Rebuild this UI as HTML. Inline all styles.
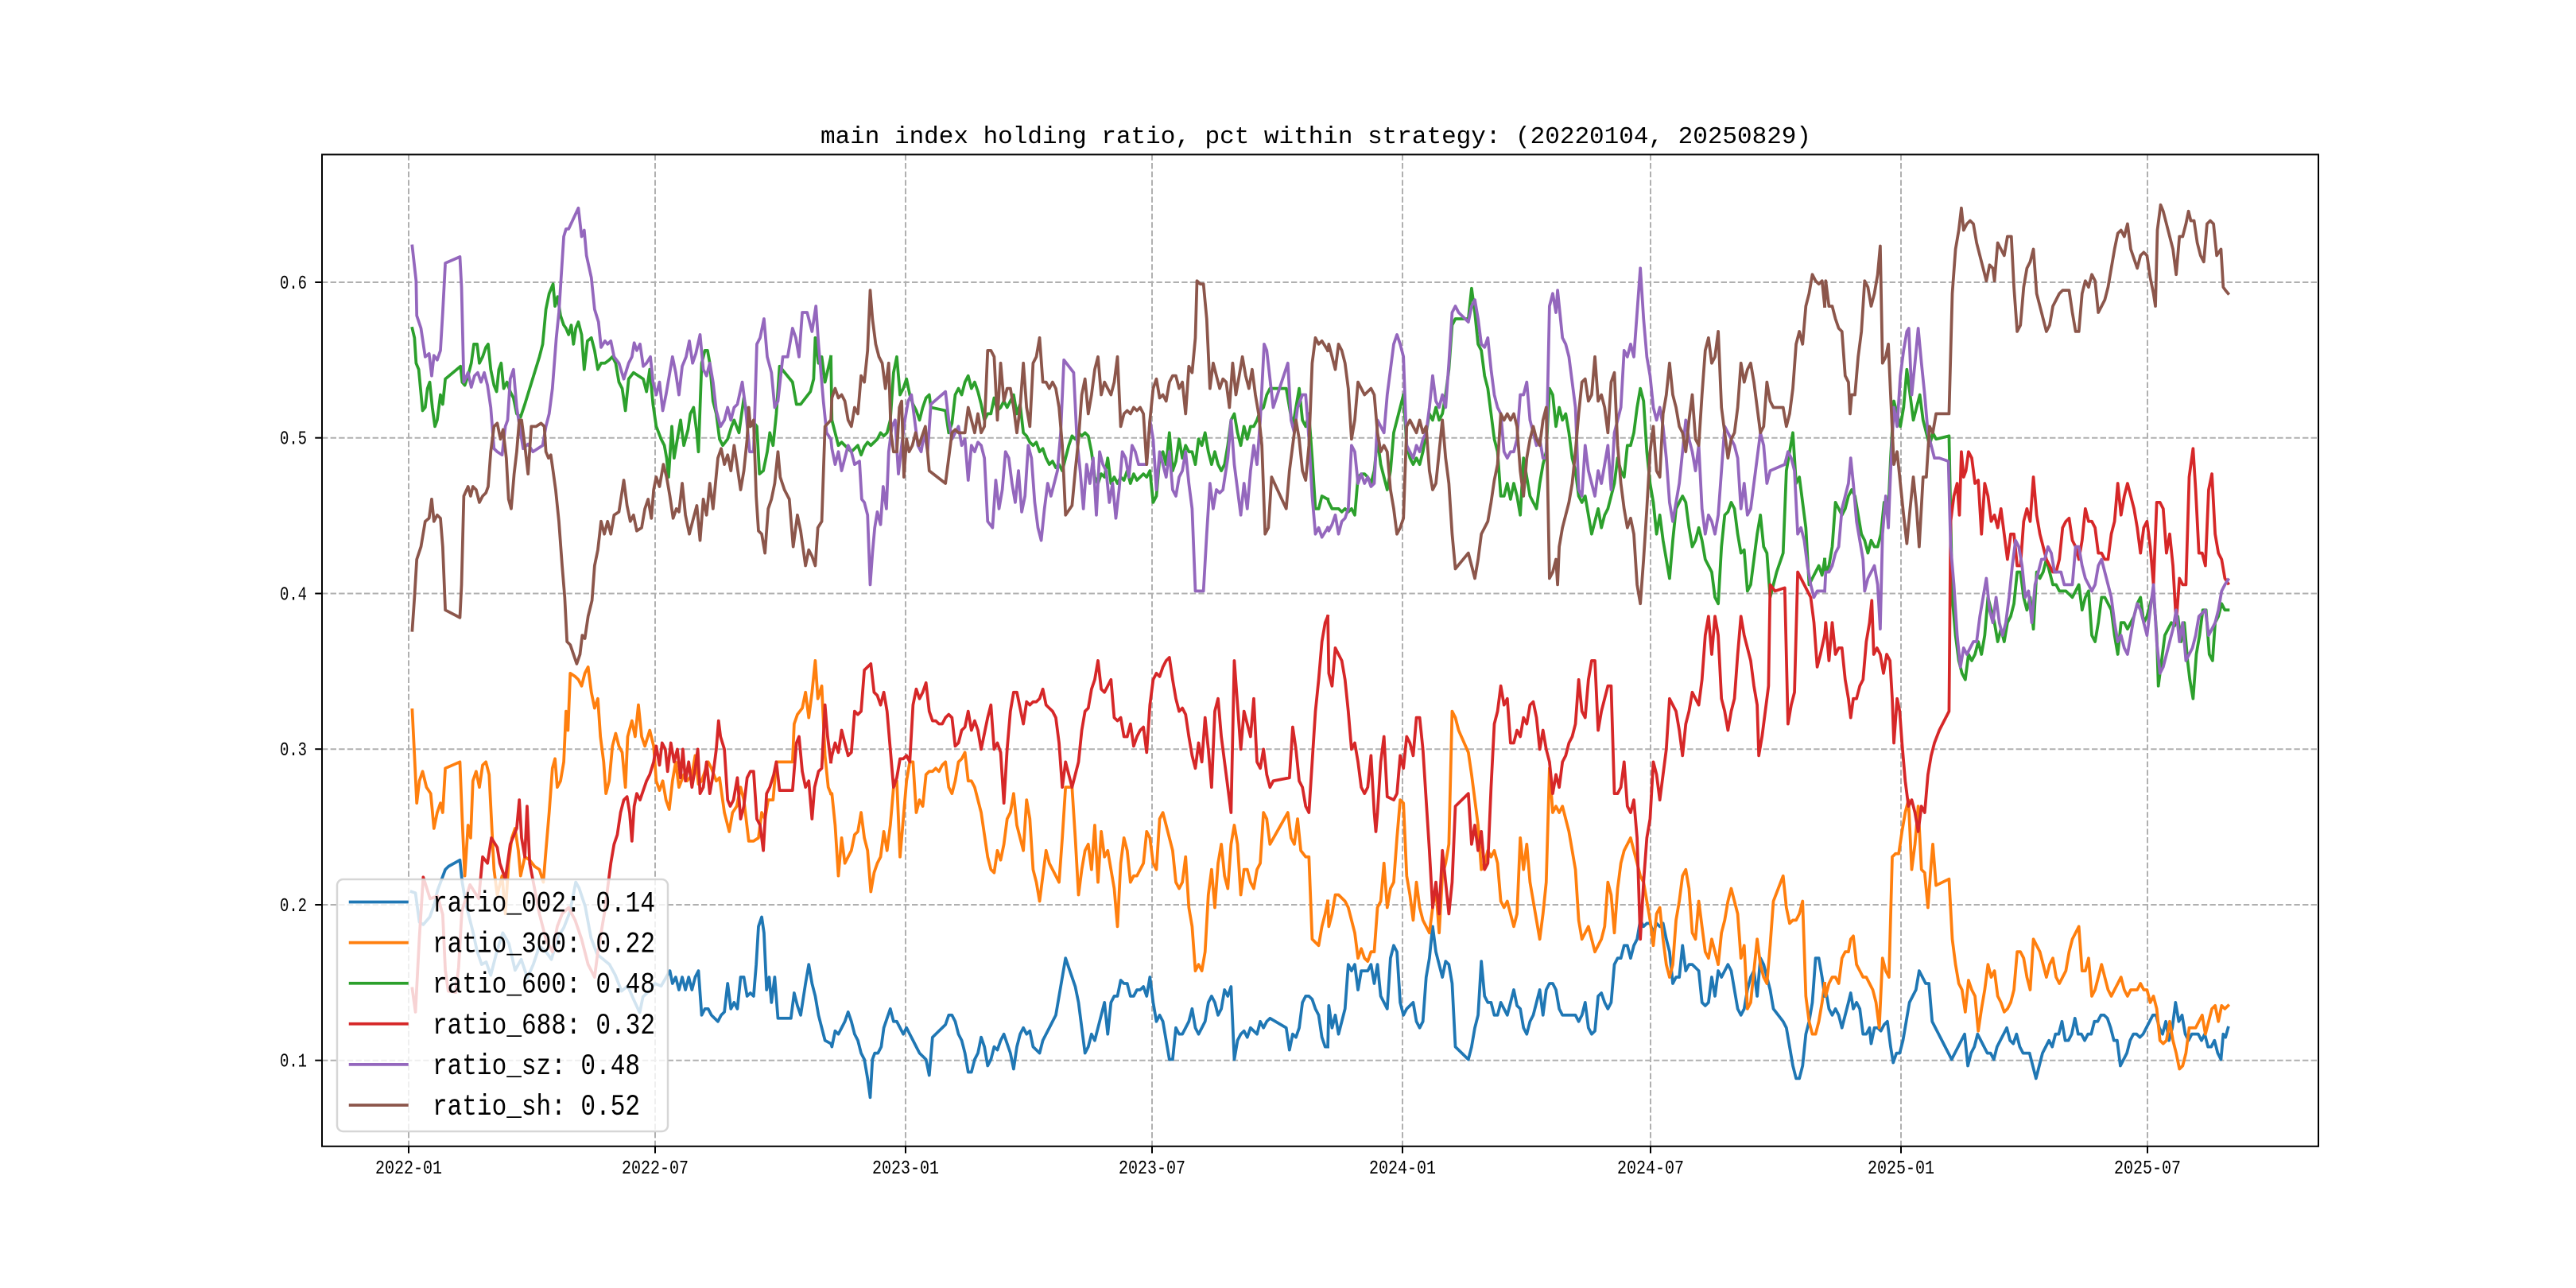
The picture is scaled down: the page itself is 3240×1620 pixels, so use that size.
<!DOCTYPE html>
<html><head><meta charset="utf-8"><style>
html,body{margin:0;padding:0;background:#fff;overflow:hidden}
svg{display:block}
.c polyline{vector-effect:non-scaling-stroke;fill:none;stroke-width:3.75;stroke-linejoin:round;stroke-linecap:square}
.t{font-family:"Liberation Mono","DejaVu Sans Mono",monospace;fill:#000}
</style></head><body>
<svg xmlns="http://www.w3.org/2000/svg" width="3240" height="1620" viewBox="0 0 3240 1620">
<rect x="0" y="0" width="3240" height="1620" fill="#fff"/>
<!-- grid -->
<g stroke="#b0b0b0" stroke-width="2" stroke-dasharray="7.4 3.2">
<line x1="514" y1="194.4" x2="514" y2="1441.8"/>
<line x1="824" y1="194.4" x2="824" y2="1441.8"/>
<line x1="1139" y1="194.4" x2="1139" y2="1441.8"/>
<line x1="1449" y1="194.4" x2="1449" y2="1441.8"/>
<line x1="1764" y1="194.4" x2="1764" y2="1441.8"/>
<line x1="2076" y1="194.4" x2="2076" y2="1441.8"/>
<line x1="2391" y1="194.4" x2="2391" y2="1441.8"/>
<line x1="2701" y1="194.4" x2="2701" y2="1441.8"/>
<line x1="405" y1="355" x2="2916" y2="355"/>
<line x1="405" y1="550.7" x2="2916" y2="550.7"/>
<line x1="405" y1="746.5" x2="2916" y2="746.5"/>
<line x1="405" y1="942.2" x2="2916" y2="942.2"/>
<line x1="405" y1="1138" x2="2916" y2="1138"/>
<line x1="405" y1="1333.7" x2="2916" y2="1333.7"/>
</g>
<!-- chunk 1 -->
<g class="c" transform="translate(405,194) scale(0.408163,0.796178)">
<polyline stroke="#1f77b4" points="276,1165 288,1167 300,1213 312,1217 332,1205 347,1184 356,1163 380,1130 390,1125 425,1115 432,1150 445,1188 464,1226 478,1259 492,1280 506,1276 520,1297 539,1259 557,1230 576,1247 595,1289 614,1272 633,1301 651,1280 670,1251 689,1259 707,1272 726,1238 745,1222 764,1197 782,1150 792,1159 811,1188 829,1238 848,1264 867,1272 886,1280 904,1297 923,1322 942,1314 960,1335 979,1356 989,1331 1008,1322 1026,1310 1045,1314 1064,1297 1072,1290 1080,1310 1090,1300 1100,1320 1110,1300 1120,1320 1130,1300 1140,1320 1150,1300 1160,1290 1170,1360 1180,1350 1190,1350 1200,1360 1210,1365 1220,1370 1230,1360 1240,1355 1250,1310 1260,1350 1270,1340 1280,1350 1290,1300 1300,1300 1310,1330 1320,1325 1330,1330 1338,1280 1345,1220 1355,1205 1362,1230 1370,1320 1378,1300 1385,1340 1395,1300 1405,1365 1420,1365 1445,1365 1455,1325 1465,1345 1475,1360 1490,1310 1500,1280 1510,1310 1520,1330 1530,1360 1540,1380 1550,1400 1568,1405"/>
<polyline stroke="#ff7f0e" points="278,878 285,950 292,1025 300,990 310,975 322,1000 335,1010 345,1065 355,1040 365,1025 372,1040 380,970 425,960 432,1050 440,1140 450,1060 458,1080 465,990 475,975 485,1000 495,965 505,960 515,980 520,1030 530,1130 540,1170 555,1140 565,1200 575,1120 585,1080 595,1065 605,1100 612,1140 625,1110 640,1115 655,1125 670,1130 682,1150 690,1100 700,1040 710,970 718,955 725,1000 735,990 745,960 752,880 758,910 765,820 780,825 790,830 800,840 810,820 820,810 830,850 840,875 850,860 858,920 868,960 875,1010 885,990 895,935 905,915 915,935 925,945 935,1000 942,920 955,895 965,920 975,870 985,920 995,935 1010,910 1022,935 1030,990 1040,1005 1050,990 1060,1020 1070,1035 1080,990 1090,960 1100,1000 1115,980 1125,990 1140,980 1150,950 1160,995 1170,990 1180,975 1190,960 1200,970 1215,990 1225,985 1240,1040 1255,1070 1265,1040 1278,1030 1290,1000 1300,1020 1315,1085 1330,1085 1345,1080 1355,1040 1365,1050 1375,1020 1390,1020 1400,960 1410,960 1450,960 1455,900 1465,885 1480,875 1490,850 1500,890 1510,850 1520,800 1528,860 1540,840 1550,950 1560,1000 1568,1010"/>
<polyline stroke="#2ca02c" points="278,275 285,290 290,330 298,340 310,405 318,400 325,370 332,360 340,400 348,430 355,420 365,380 372,395 380,355 427,335 432,360 440,365 450,350 460,330 468,300 478,300 485,330 495,320 505,305 512,300 520,340 530,365 538,375 545,340 552,330 560,370 570,360 580,375 590,385 600,410 612,415 625,395 640,370 655,345 670,320 680,300 690,245 700,220 712,205 718,240 726,225 735,255 745,270 752,275 760,285 768,270 775,300 782,275 790,265 800,285 808,340 818,295 830,290 840,310 850,340 860,330 872,330 885,325 895,320 905,330 915,360 925,370 935,405 945,355 960,345 975,350 990,355 1000,375 1010,340 1020,395 1030,430 1045,450 1055,460 1062,480 1068,510 1078,430 1085,480 1095,450 1105,420 1115,460 1128,435 1135,410 1145,400 1155,440 1160,470 1170,330 1180,310 1188,310 1195,330 1205,390 1215,410 1225,450 1235,460 1250,450 1262,430 1270,420 1285,440 1300,385 1310,410 1320,430 1332,425 1340,430 1348,505 1360,500 1372,470 1380,440 1390,460 1400,410 1410,335 1450,360 1462,395 1475,395 1490,385 1505,375 1515,355 1520,290 1530,330 1540,320 1550,360 1568,320"/>
<polyline stroke="#d62728" points="278,1318 288,1355 300,1238 312,1142 333,1176 356,1172 372,1201 380,1289 389,1322 412,1324 421,1284 431,1196 456,1154 483,1176 495,1110 510,1120 522,1080 540,1095 548,1120 565,1145 580,1090 600,1065 608,1020 615,1080 625,1110 632,1030 640,1120 655,1160 670,1200 690,1240 710,1260 725,1220 740,1200 760,1190 780,1210 800,1240 820,1280 840,1300 850,1260 860,1230 870,1200 880,1160 890,1120 900,1090 910,1075 920,1040 930,1020 940,1015 948,1040 955,1085 962,1030 970,1010 980,1020 990,1005 1000,990 1010,980 1022,960 1030,935 1040,965 1048,930 1058,940 1065,975 1075,930 1085,960 1095,940 1105,985 1112,940 1120,990 1130,960 1140,1000 1150,970 1158,940 1165,1010 1175,1000 1185,960 1195,1010 1205,980 1215,940 1222,895 1228,920 1240,940 1250,1020 1258,1030 1268,1020 1280,985 1290,1050 1300,1030 1310,985 1320,975 1330,975 1340,1050 1350,1060 1360,1100 1370,1010 1380,1000 1392,980 1400,960 1410,1005 1450,1005 1462,930 1470,920 1480,975 1490,1000 1500,990 1510,1050 1518,1000 1530,975 1540,970 1550,870 1558,920 1568,960"/>
<polyline stroke="#9467bd" points="278,145 290,200 292,255 305,275 318,320 330,315 338,350 345,318 355,325 365,310 372,250 380,172 425,162 430,210 437,360 450,345 460,368 470,350 480,345 490,360 500,345 510,365 520,400 530,465 540,470 555,475 565,430 572,420 580,355 590,340 600,400 612,440 620,465 635,458 650,470 665,465 680,460 690,430 700,410 710,370 722,290 730,250 745,130 752,118 760,118 790,85 800,130 808,120 815,160 830,195 840,245 852,265 860,305 872,295 880,300 890,295 900,320 915,330 930,355 945,330 955,320 962,298 970,310 980,300 990,335 1000,330 1012,320 1020,360 1030,380 1040,360 1050,405 1060,380 1070,350 1080,320 1090,345 1100,380 1110,335 1122,320 1132,295 1142,330 1152,315 1165,285 1175,340 1185,350 1195,330 1205,360 1215,405 1228,430 1240,420 1250,400 1260,420 1270,400 1280,395 1295,360 1305,400 1318,470 1330,470 1340,300 1350,290 1362,260 1372,320 1385,345 1395,400 1405,390 1420,320 1435,320 1450,275 1460,290 1470,320 1480,250 1495,250 1510,280 1522,240 1530,300 1545,390 1555,440 1568,450"/>
<polyline stroke="#8c564b" points="278,752 285,700 292,640 305,620 318,580 330,575 338,545 345,580 355,570 365,575 372,620 380,720 425,732 430,680 437,540 450,525 458,540 465,525 475,530 485,550 495,540 505,535 512,525 520,470 530,430 540,425 550,450 558,435 568,480 575,545 583,560 592,505 600,470 608,420 615,420 625,460 635,505 645,430 660,430 675,425 685,430 690,470 698,480 705,475 712,500 720,530 730,580 740,650 748,700 755,770 765,775 775,790 785,805 795,790 802,760 810,765 820,730 832,705 840,650 850,625 860,580 870,600 880,580 890,600 900,570 915,565 930,515 940,555 950,580 960,570 970,595 985,590 995,560 1005,545 1015,575 1022,530 1030,510 1040,525 1052,490 1062,510 1072,540 1082,575 1092,560 1100,565 1110,520 1120,570 1132,600 1142,580 1155,555 1165,610 1175,545 1185,570 1195,520 1205,560 1220,480 1230,465 1240,490 1250,475 1260,500 1270,460 1280,495 1290,530 1300,500 1310,450 1315,400 1320,430 1330,420 1338,540 1345,595 1355,600 1365,630 1375,560 1385,545 1395,520 1405,470 1412,510 1425,530 1440,545 1452,620 1465,570 1475,595 1490,650 1500,625 1510,635 1520,650 1528,590 1540,580 1550,430 1568,420"/>
</g>
<!-- chunk 2 -->
<g class="c" transform="translate(1030,194) scale(0.408163,0.796178)">
<polyline stroke="#1f77b4" points="37,1405 40,1410 50,1385 60,1390 70,1380 80,1370 90,1355 100,1370 110,1390 120,1400 130,1420 140,1430 150,1460 158,1490 165,1430 172,1420 182,1420 192,1410 200,1380 210,1365 220,1350 230,1370 240,1370 250,1380 260,1390 270,1380 280,1390 290,1400 300,1410 310,1420 320,1425 330,1430 340,1455 350,1395 360,1390 370,1385 380,1380 390,1375 400,1360 410,1360 420,1370 430,1390 440,1400 450,1420 460,1450 470,1450 480,1430 490,1420 500,1395 510,1410 520,1440 530,1430 540,1410 550,1415 560,1400 570,1390 580,1405 590,1420 600,1445 610,1410 620,1390 630,1380 640,1390 650,1385 660,1410 670,1415 680,1420 690,1400 700,1390 710,1380 720,1370 730,1360 740,1330 750,1300 760,1270 770,1285 780,1300 790,1315 800,1340 810,1380 820,1420 830,1410 840,1390 850,1400 860,1380 870,1360 880,1340 890,1390 900,1340 910,1330 920,1330 930,1305 940,1310 950,1310 960,1330 970,1330 980,1320 990,1320 1000,1315 1010,1330 1020,1300 1030,1340 1040,1370 1050,1360 1060,1370 1070,1400 1080,1430 1090,1430 1100,1380 1110,1390 1120,1390 1130,1380 1140,1370 1150,1350 1160,1380 1170,1390 1180,1380 1190,1370 1200,1340 1210,1330 1220,1340 1230,1360 1240,1350 1250,1320 1260,1330 1270,1315 1280,1430 1290,1400 1300,1390 1310,1385 1320,1395 1330,1380 1340,1385 1350,1390 1360,1370 1370,1380 1380,1370 1390,1365 1440,1380 1450,1415 1460,1390 1470,1395 1480,1380 1490,1340 1500,1330 1510,1330 1520,1335 1530,1350 1540,1360 1550,1395 1560,1410 1568,1410"/>
<polyline stroke="#ff7f0e" points="37,1010 40,1010 50,1060 60,1140 70,1080 80,1120 90,1110 100,1100 110,1075 120,1070 130,1040 140,1080 150,1100 160,1165 170,1135 180,1120 190,1110 200,1070 210,1100 220,1060 230,1000 240,990 250,1110 260,1050 270,990 280,960 290,960 300,1040 310,1020 320,1030 330,980 340,975 350,975 360,970 370,975 380,965 390,960 400,1000 410,1010 420,990 430,960 440,955 450,945 460,990 470,990 480,1000 490,1020 500,1040 510,1075 520,1110 530,1130 540,1135 550,1100 560,1115 570,1090 580,1050 590,1040 600,1010 610,1060 620,1080 630,1100 640,1020 650,1050 660,1130 670,1150 680,1180 690,1140 700,1100 710,1120 720,1130 730,1140 740,1150 750,1080 760,1000 770,1000 780,1000 790,1080 800,1170 810,1130 820,1100 830,1090 840,1130 850,1060 860,1150 870,1070 880,1110 890,1100 900,1130 910,1160 920,1220 930,1120 940,1080 950,1100 960,1150 970,1140 980,1140 990,1130 1000,1120 1010,1070 1020,1080 1030,1120 1040,1130 1050,1050 1060,1040 1070,1060 1080,1080 1090,1100 1100,1150 1110,1160 1120,1150 1130,1110 1140,1190 1150,1220 1160,1290 1170,1280 1180,1290 1190,1260 1200,1170 1210,1130 1220,1190 1230,1120 1240,1090 1250,1140 1260,1160 1270,1090 1280,1060 1290,1090 1300,1170 1310,1130 1320,1130 1330,1150 1340,1160 1350,1130 1360,1120 1370,1040 1380,1050 1390,1090 1445,1040 1455,1080 1465,1090 1475,1050 1485,1100 1500,1110 1510,1110 1520,1240 1530,1245 1540,1250 1550,1220 1560,1200 1568,1180"/>
<polyline stroke="#2ca02c" points="37,320 40,420 50,440 60,460 70,455 80,460 90,465 100,470 110,465 120,460 130,475 140,462 150,455 160,460 170,455 180,450 190,440 200,445 210,440 220,420 230,345 240,320 250,380 260,370 270,355 280,380 290,395 300,405 310,420 320,400 330,385 340,380 345,400 390,405 400,440 410,425 420,380 430,370 440,380 450,360 460,350 470,370 480,360 490,375 500,395 510,420 520,410 530,410 540,385 550,405 560,400 570,390 580,400 590,390 600,380 610,410 620,395 630,440 640,445 650,455 660,460 670,455 680,470 690,465 700,480 710,490 720,485 730,495 740,490 750,500 760,480 770,460 780,445 790,450 800,440 810,445 820,440 830,445 840,470 850,510 860,520 870,505 880,510 890,480 900,520 910,510 920,520 930,510 940,515 950,500 960,520 970,505 980,515 990,510 1000,505 1010,510 1020,500 1030,550 1040,540 1050,480 1060,470 1070,490 1080,440 1090,500 1100,485 1110,450 1120,480 1130,460 1140,470 1150,470 1160,490 1170,450 1180,460 1190,440 1200,470 1210,490 1220,470 1230,490 1240,500 1250,490 1260,460 1270,420 1280,410 1290,440 1300,460 1310,430 1320,450 1330,430 1340,430 1350,420 1360,405 1370,400 1380,380 1390,370 1440,370 1450,400 1460,430 1470,400 1480,370 1490,420 1500,430 1510,410 1520,480 1530,560 1540,560 1550,540 1568,545"/>
<polyline stroke="#d62728" points="37,960 40,950 50,930 60,945 70,910 80,930 90,950 100,945 110,880 120,885 130,880 140,815 150,810 160,805 170,850 180,855 190,870 200,850 210,880 220,940 230,1000 240,985 250,955 260,955 270,950 280,960 290,870 300,845 310,860 320,850 330,835 340,880 350,895 360,895 370,900 380,900 390,890 400,885 410,890 420,935 430,930 440,910 450,905 460,880 470,910 480,895 490,910 500,940 510,915 520,890 530,870 540,940 550,930 560,945 570,1025 580,940 590,880 600,850 610,850 620,875 630,900 640,865 650,870 660,865 670,865 680,860 690,845 700,870 710,875 720,880 730,890 740,930 750,1000 760,960 770,980 780,1000 790,980 800,960 810,910 820,880 830,875 840,845 850,830 860,800 870,845 880,850 890,840 900,830 910,890 920,895 930,890 940,920 950,920 960,900 970,935 980,920 990,910 1000,905 1010,945 1020,870 1030,830 1040,820 1050,825 1060,810 1070,800 1080,795 1090,830 1100,860 1110,880 1120,875 1130,885 1140,920 1150,950 1160,970 1170,930 1180,960 1190,890 1200,940 1210,1000 1220,880 1230,860 1240,920 1250,960 1260,1000 1270,1040 1280,800 1290,870 1300,940 1310,880 1320,900 1330,920 1340,860 1350,960 1360,970 1370,940 1380,980 1390,1000 1400,990 1450,985 1460,905 1470,940 1480,990 1490,1000 1500,1030 1510,1040 1520,960 1530,880 1540,830 1550,770 1560,740 1568,730"/>
<polyline stroke="#9467bd" points="37,450 40,465 50,490 60,470 70,500 80,480 90,460 100,470 110,490 125,485 132,545 140,550 150,570 158,680 165,630 172,590 180,565 190,585 198,525 208,560 215,470 225,430 235,420 245,505 255,460 265,420 275,390 285,380 295,420 305,460 315,470 325,440 335,470 345,395 390,375 400,420 410,450 420,440 430,430 440,460 450,450 460,515 470,460 480,470 490,455 500,460 510,480 520,580 535,590 545,515 555,560 565,530 575,470 585,480 595,520 605,550 615,500 625,565 635,540 645,460 655,480 665,550 675,590 685,610 695,560 705,520 715,540 725,520 735,500 745,440 755,325 785,345 795,450 805,500 815,560 825,490 835,520 845,480 855,570 865,470 875,490 885,500 895,550 905,520 915,575 925,530 935,470 945,480 955,510 965,460 975,470 985,490 1010,490 1020,420 1030,450 1040,530 1050,470 1060,490 1070,510 1080,470 1090,530 1100,540 1110,510 1120,500 1130,470 1140,520 1150,560 1160,690 1175,690 1185,690 1195,600 1205,520 1215,560 1225,530 1235,535 1245,530 1260,480 1270,420 1280,490 1290,530 1300,570 1310,520 1320,560 1330,500 1340,460 1350,490 1360,420 1372,300 1380,310 1390,355 1400,400 1445,330 1455,420 1465,440 1475,400 1490,380 1500,380 1510,450 1520,540 1530,600 1540,590 1550,605 1568,590"/>
<polyline stroke="#8c564b" points="37,420 40,385 50,370 60,385 70,380 80,390 90,420 100,430 110,400 120,410 130,350 140,360 150,310 158,215 165,260 175,300 185,320 195,330 205,370 215,330 222,440 230,470 240,470 248,400 255,390 262,510 270,450 278,470 288,460 298,440 308,460 318,445 328,430 340,500 390,520 400,480 410,440 420,435 430,440 440,440 450,440 460,400 470,420 480,440 490,410 500,440 510,430 520,310 530,310 540,320 550,420 560,330 570,390 580,370 590,370 600,400 610,440 620,400 630,330 640,400 650,430 660,330 670,320 680,290 690,360 700,360 710,370 720,360 730,370 740,400 750,460 760,570 780,555 790,500 800,450 810,380 820,355 830,410 840,380 850,340 860,320 870,380 880,360 890,370 900,380 910,360 920,320 930,430 940,410 950,405 960,410 970,400 980,405 990,400 1000,410 1010,490 1020,420 1030,370 1040,355 1050,385 1060,380 1070,390 1080,360 1090,350 1100,350 1110,370 1120,360 1130,410 1140,335 1150,345 1160,290 1165,200 1175,205 1185,205 1195,260 1205,370 1215,330 1225,350 1235,370 1245,355 1255,360 1265,400 1275,330 1285,380 1295,350 1305,320 1315,350 1325,370 1335,340 1345,380 1355,410 1365,460 1375,600 1385,590 1395,510 1440,560 1450,500 1460,460 1470,420 1480,450 1490,500 1500,515 1510,460 1520,330 1530,290 1540,300 1550,295 1568,310"/>
</g>
<!-- chunk 3 -->
<g class="c" transform="translate(1655,194) scale(0.408163,0.796178)">
<polyline stroke="#1f77b4" points="37,1410 40,1345 50,1380 60,1360 70,1390 80,1370 90,1350 100,1280 110,1290 120,1280 130,1320 140,1290 150,1290 160,1290 170,1280 180,1310 190,1280 200,1330 210,1340 220,1350 230,1270 240,1250 250,1260 260,1340 270,1360 280,1350 290,1345 300,1340 310,1370 320,1380 330,1370 340,1300 350,1270 360,1220 370,1260 380,1280 390,1300 400,1275 410,1280 420,1310 430,1410 470,1430 480,1410 490,1380 500,1360 510,1275 520,1330 530,1340 540,1340 550,1360 560,1360 570,1340 580,1350 590,1360 600,1340 610,1320 620,1345 630,1350 640,1380 650,1390 660,1370 670,1360 680,1340 690,1320 700,1360 710,1320 720,1310 730,1310 740,1320 750,1350 760,1360 800,1360 810,1370 820,1360 830,1340 840,1380 850,1390 860,1385 870,1330 880,1325 890,1340 900,1350 910,1340 920,1280 930,1270 940,1270 950,1250 960,1250 970,1270 980,1250 990,1240 1000,1210 1010,1220 1020,1215 1030,1215 1040,1230 1050,1215 1060,1220 1070,1215 1080,1240 1090,1260 1100,1310 1110,1300 1120,1300 1130,1250 1140,1290 1150,1280 1160,1280 1170,1285 1180,1290 1190,1340 1200,1345 1210,1340 1220,1300 1230,1330 1240,1290 1250,1300 1260,1290 1270,1280 1280,1290 1290,1320 1300,1350 1310,1360 1320,1350 1330,1320 1340,1300 1350,1290 1360,1330 1370,1270 1380,1280 1390,1300 1400,1320 1410,1350 1440,1370 1450,1380 1460,1410 1470,1440 1480,1460 1490,1460 1500,1440 1510,1390 1520,1370 1530,1340 1540,1270 1550,1270 1560,1300 1568,1330"/>
<polyline stroke="#ff7f0e" points="37,1180 40,1220 50,1200 60,1170 70,1170 80,1175 90,1180 100,1190 110,1210 120,1230 130,1270 140,1255 150,1270 160,1275 170,1260 180,1260 190,1190 200,1180 210,1120 220,1190 230,1160 240,1150 250,1080 260,1020 270,1025 280,1140 290,1170 300,1210 310,1150 320,1190 330,1210 340,1220 350,1230 360,1190 370,1160 380,1230 390,1140 400,1120 410,1090 420,880 430,890 440,910 470,945 480,980 490,1020 500,1060 510,1130 520,1120 530,1100 540,1110 550,1100 560,1120 570,1180 580,1190 590,1180 600,1200 610,1220 620,1200 630,1080 640,1130 650,1090 660,1150 670,1180 680,1210 690,1240 700,1200 710,1150 720,970 730,1040 740,1030 750,1040 760,1030 770,1050 780,1070 790,1100 800,1130 810,1210 820,1240 830,1230 840,1220 850,1240 860,1260 870,1250 880,1240 890,1220 900,1150 910,1170 920,1230 930,1160 940,1120 950,1100 960,1090 970,1080 980,1100 990,1120 1000,1140 1010,1150 1020,1180 1030,1210 1040,1250 1050,1200 1060,1190 1070,1240 1080,1280 1090,1300 1100,1280 1110,1210 1120,1180 1130,1140 1140,1130 1150,1160 1160,1230 1170,1240 1180,1180 1190,1220 1200,1260 1210,1270 1220,1240 1230,1260 1240,1280 1250,1230 1260,1210 1270,1180 1280,1160 1290,1180 1300,1200 1310,1270 1320,1250 1330,1350 1340,1340 1350,1290 1360,1240 1370,1280 1380,1300 1390,1310 1400,1250 1410,1180 1440,1140 1450,1190 1460,1215 1470,1210 1480,1210 1490,1200 1500,1180 1510,1330 1520,1370 1530,1390 1540,1390 1550,1370 1560,1340 1568,1310"/>
<polyline stroke="#2ca02c" points="37,545 40,550 50,560 60,560 70,560 80,565 90,560 100,565 110,560 120,570 130,510 140,505 150,505 160,510 170,520 180,500 190,450 200,490 210,510 220,530 230,500 240,440 250,420 260,400 270,380 280,460 290,480 300,490 310,480 320,490 330,470 340,440 350,410 360,420 370,400 380,420 390,410 400,380 410,340 420,270 430,260 470,260 480,212 490,250 500,300 510,310 520,350 530,370 540,410 550,450 560,470 570,540 580,540 590,520 600,545 610,520 620,540 630,570 640,480 650,510 660,540 670,550 680,560 690,520 700,490 710,470 720,370 730,380 740,430 750,400 760,420 770,410 780,440 790,480 800,500 810,540 820,550 830,540 840,570 850,600 860,580 870,560 880,590 890,570 900,560 910,540 920,520 930,480 940,500 950,510 960,460 970,460 980,440 990,400 1000,370 1010,390 1020,470 1030,520 1040,550 1050,600 1060,570 1070,610 1080,640 1090,670 1100,610 1110,560 1120,550 1130,540 1140,550 1150,590 1160,620 1170,610 1180,590 1190,610 1200,640 1210,650 1220,660 1230,700 1240,710 1250,620 1260,570 1270,565 1280,550 1290,560 1300,600 1310,630 1320,625 1330,690 1340,680 1350,640 1360,600 1370,570 1380,620 1390,630 1400,700 1410,680 1420,660 1440,630 1450,500 1470,440 1480,520 1490,510 1500,550 1510,590 1520,680 1530,670 1540,660 1550,650 1560,665 1568,640"/>
<polyline stroke="#d62728" points="37,730 40,820 50,840 60,780 70,790 80,800 90,830 100,880 110,940 120,930 130,960 140,1000 150,1010 160,1000 170,950 180,1040 185,1070 190,1040 200,960 210,920 220,1015 240,1020 250,1010 260,950 270,970 280,920 290,930 300,950 310,890 320,890 330,940 340,1020 350,1100 360,1190 370,1150 380,1200 390,1100 400,1150 410,1200 420,1150 430,1030 470,1010 480,1090 490,1060 500,1100 510,1070 520,1130 530,1120 540,1000 550,900 560,880 570,840 580,870 590,860 600,930 610,930 620,910 630,920 640,890 650,900 660,870 670,865 680,890 690,940 700,910 710,940 720,960 730,1010 740,980 750,1000 760,960 770,950 780,930 790,920 800,900 810,830 820,880 830,890 840,830 850,800 860,800 870,910 880,880 890,860 900,840 910,840 920,1010 930,1010 940,1000 950,960 960,1030 970,1040 980,1020 990,1080 1000,1240 1010,1150 1020,1080 1030,1050 1040,960 1050,980 1060,1020 1070,980 1080,940 1090,860 1100,870 1110,880 1120,910 1130,950 1140,900 1150,880 1160,850 1170,860 1180,870 1190,830 1200,760 1210,730 1220,790 1230,730 1240,760 1250,860 1260,880 1270,910 1280,880 1290,860 1300,790 1310,730 1320,760 1330,780 1340,800 1350,840 1360,870 1365,950 1375,920 1385,880 1395,840 1400,680 1415,690 1445,685 1455,900 1465,870 1475,850 1485,660 1495,670 1505,680 1515,690 1525,700 1535,740 1545,810 1555,790 1568,760"/>
<polyline stroke="#9467bd" points="37,590 40,595 50,585 60,570 70,600 80,580 90,575 100,560 110,460 120,470 130,520 140,505 150,520 160,510 170,525 180,520 190,420 200,430 210,440 220,380 230,340 240,300 250,285 260,300 270,320 280,460 290,470 300,480 310,460 320,470 330,450 340,440 350,400 360,350 370,390 380,400 390,380 400,400 410,330 420,250 430,240 440,250 470,265 480,240 490,230 500,260 510,300 520,305 530,290 540,340 550,380 560,400 570,410 580,470 590,480 600,470 610,470 620,450 630,380 640,380 650,360 660,420 670,440 680,460 690,450 700,480 710,480 720,240 730,220 740,250 745,215 752,250 760,290 770,300 780,320 790,360 800,400 810,530 820,540 830,460 840,500 850,520 860,540 870,500 880,520 890,490 900,460 910,530 920,440 930,420 940,400 950,310 960,320 970,300 980,320 990,250 1000,180 1010,260 1020,320 1030,350 1040,400 1050,420 1060,400 1070,430 1080,480 1090,550 1100,580 1110,550 1120,520 1130,470 1140,420 1150,450 1160,470 1170,500 1180,460 1190,560 1200,600 1210,570 1220,580 1230,600 1240,570 1250,500 1260,430 1270,440 1280,450 1290,460 1300,480 1310,560 1320,520 1330,570 1340,560 1350,520 1360,480 1370,440 1380,460 1390,520 1400,500 1445,490 1455,470 1465,480 1475,500 1485,600 1495,590 1505,610 1515,650 1525,680 1535,700 1545,690 1555,690 1568,690"/>
<polyline stroke="#8c564b" points="37,310 40,300 50,320 60,340 70,300 80,310 90,330 100,370 110,450 120,420 130,360 140,370 150,380 160,375 170,370 180,380 190,440 200,470 210,460 220,470 230,530 240,560 250,600 260,590 270,575 280,430 290,420 300,430 310,440 320,420 330,440 340,430 350,500 360,530 370,520 380,470 390,420 400,480 410,520 420,600 430,655 470,630 480,650 490,670 500,640 510,600 520,590 530,580 540,550 550,515 560,490 570,410 580,420 590,410 600,420 610,410 620,430 630,500 640,540 650,480 660,450 670,430 680,450 690,460 700,420 710,400 720,670 730,660 740,640 745,680 750,620 760,590 770,570 780,550 790,520 800,470 810,410 820,360 830,355 840,390 850,380 860,320 870,390 880,380 890,400 900,440 910,360 920,345 930,460 940,520 950,560 960,590 970,575 980,600 990,680 1000,710 1010,640 1020,560 1030,470 1040,430 1050,500 1060,510 1070,410 1080,380 1090,330 1100,380 1110,400 1120,430 1130,440 1140,470 1150,420 1160,380 1170,450 1180,460 1190,380 1200,310 1210,290 1220,330 1230,320 1240,280 1250,400 1260,440 1270,480 1280,450 1290,440 1300,400 1310,330 1320,360 1330,340 1340,330 1350,360 1360,400 1370,440 1380,430 1390,360 1400,390 1410,400 1440,400 1450,430 1460,410 1470,370 1480,300 1490,280 1500,300 1510,240 1520,220 1530,190 1540,200 1550,205 1560,200 1568,240"/>
</g>
<!-- chunk 4 -->
<g class="c" transform="translate(2280,194) scale(0.408163,0.796178)">
<polyline stroke="#1f77b4" points="37,1330 40,1320 50,1350 60,1360 70,1350 80,1360 90,1380 100,1360 110,1340 117,1325 125,1350 135,1340 145,1350 155,1390 165,1390 175,1380 180,1405 190,1380 200,1380 210,1385 220,1375 230,1370 240,1410 248,1435 258,1420 268,1420 278,1400 288,1370 298,1340 308,1330 318,1320 328,1290 338,1300 348,1310 358,1310 368,1370 378,1380 388,1390 398,1400 408,1410 418,1420 428,1430 438,1420 448,1410 458,1400 468,1390 478,1440 488,1420 498,1410 508,1390 518,1400 528,1410 538,1420 548,1420 558,1430 568,1410 578,1400 588,1390 598,1380 608,1400 618,1405 628,1390 638,1410 648,1420 658,1420 668,1420 678,1440 688,1460 698,1440 708,1420 718,1410 728,1400 738,1410 748,1390 758,1390 768,1370 778,1400 788,1400 798,1390 808,1365 818,1390 828,1390 838,1400 848,1390 858,1390 868,1370 878,1370 888,1360 898,1360 908,1365 918,1380 928,1400 938,1400 948,1440 958,1430 968,1420 978,1400 988,1390 998,1390 1008,1395 1018,1390 1028,1380 1038,1370 1048,1360 1058,1360 1068,1380 1078,1390 1088,1370 1098,1400 1108,1380 1118,1340 1128,1370 1138,1360 1148,1390 1158,1400 1168,1390 1178,1390 1188,1390 1198,1400 1208,1390 1218,1410 1228,1410 1238,1400 1248,1420 1258,1430 1265,1390 1272,1395 1280,1380"/>
<polyline stroke="#ff7f0e" points="37,1310 40,1330 50,1310 60,1300 70,1300 80,1310 90,1270 100,1260 110,1260 117,1240 125,1235 135,1280 145,1290 155,1300 165,1300 175,1310 185,1320 195,1340 205,1380 215,1270 225,1290 235,1300 245,1110 255,1105 265,1105 275,1070 285,1040 295,1020 305,1130 315,1090 325,1030 335,1130 345,1135 355,1190 365,1120 370,1090 380,1155 420,1145 430,1240 440,1280 450,1310 460,1320 470,1355 480,1305 490,1320 500,1330 510,1385 520,1350 530,1320 540,1280 550,1300 560,1290 570,1330 580,1340 590,1355 600,1350 610,1340 620,1320 630,1260 640,1260 650,1270 660,1300 670,1320 680,1240 690,1250 700,1260 710,1280 720,1300 730,1280 740,1270 750,1300 760,1310 770,1300 780,1290 790,1260 800,1240 810,1230 820,1220 830,1290 840,1290 850,1270 860,1330 870,1320 880,1300 890,1280 900,1300 910,1320 920,1330 930,1320 940,1310 950,1300 960,1320 970,1330 980,1320 990,1320 1000,1320 1010,1310 1020,1320 1030,1320 1040,1340 1050,1330 1060,1350 1070,1400 1080,1405 1090,1400 1100,1370 1110,1400 1120,1420 1130,1445 1140,1440 1150,1420 1160,1380 1170,1380 1180,1380 1190,1370 1200,1360 1210,1390 1220,1370 1230,1350 1240,1345 1250,1370 1260,1345 1270,1350 1280,1345"/>
<polyline stroke="#2ca02c" points="37,640 40,660 50,650 60,620 70,550 80,560 90,570 100,560 110,540 120,530 130,540 140,570 150,600 160,610 170,630 180,610 190,620 200,620 210,600 220,550 233,560 240,480 250,390 260,410 270,430 280,400 290,340 300,380 310,420 320,400 330,380 340,420 350,440 360,460 370,440 380,450 420,445 430,700 440,760 450,800 460,820 470,830 480,790 490,800 500,790 510,770 520,790 530,760 540,700 550,720 560,740 570,770 580,750 590,770 600,740 610,730 620,710 630,660 640,660 650,700 660,720 670,700 680,750 690,660 700,670 710,660 720,640 730,660 740,680 750,680 760,690 770,690 780,690 790,695 800,700 810,690 820,680 830,720 840,700 850,690 860,760 870,770 880,740 890,700 900,700 910,710 920,720 930,760 940,790 950,740 960,740 970,750 980,740 990,730 1000,710 1010,700 1020,740 1030,730 1040,710 1050,690 1060,760 1065,840 1075,800 1085,760 1095,750 1105,740 1115,745 1125,730 1135,770 1145,740 1155,800 1162,830 1172,860 1182,790 1192,760 1202,720 1212,720 1222,790 1232,800 1240,740 1250,730 1260,710 1270,720 1280,720"/>
<polyline stroke="#d62728" points="37,760 40,740 50,800 60,740 70,790 80,780 90,780 100,830 110,860 117,890 125,860 135,860 145,840 155,830 165,770 175,740 182,705 188,790 198,780 208,790 218,820 228,790 238,800 245,860 250,930 260,860 268,880 275,930 285,990 295,1030 305,1020 315,1040 325,1070 335,1030 345,1040 355,980 365,950 375,930 390,910 420,880 425,580 435,540 445,520 452,570 458,470 465,510 472,500 480,470 490,480 500,520 510,515 520,600 530,520 540,540 550,580 560,570 570,590 580,560 590,600 600,640 610,600 620,600 630,650 640,650 650,580 660,560 670,580 680,510 690,570 700,600 710,620 720,640 730,650 740,660 750,660 760,640 770,590 780,580 790,575 800,610 810,620 820,640 830,610 840,560 850,580 860,580 870,590 880,630 890,630 900,640 910,640 920,600 930,580 940,520 950,570 960,540 970,520 980,540 990,560 1000,590 1010,630 1020,590 1030,580 1040,620 1050,680 1060,550 1070,550 1080,560 1090,630 1100,600 1110,650 1120,740 1130,670 1140,680 1150,680 1160,510 1172,465 1180,530 1190,630 1200,630 1210,650 1220,530 1230,505 1240,600 1250,630 1260,640 1270,670 1280,678"/>
<polyline stroke="#9467bd" points="37,690 40,660 50,660 60,650 70,630 80,620 90,560 100,540 110,520 117,480 125,520 135,580 145,610 155,640 160,690 170,670 180,660 190,650 200,680 208,750 215,600 225,540 233,590 240,500 250,400 260,430 270,350 280,310 290,280 296,275 305,380 315,330 325,275 335,330 345,380 355,440 365,460 375,480 390,480 418,485 425,620 435,680 445,760 455,810 465,780 475,790 485,780 495,770 505,770 515,730 525,700 535,670 545,720 555,740 565,700 575,740 585,760 595,740 605,700 615,650 625,610 635,620 645,650 655,700 665,690 675,740 685,680 695,660 705,640 715,640 725,620 735,630 745,660 755,660 765,660 775,680 800,680 810,620 820,620 830,650 840,670 850,680 860,690 870,680 880,650 890,640 900,660 910,680 920,700 930,740 940,770 950,760 960,780 970,790 980,760 990,730 1000,710 1010,720 1020,740 1030,760 1040,720 1050,680 1060,770 1070,820 1080,810 1090,790 1100,770 1110,750 1120,720 1130,770 1140,740 1150,800 1160,790 1170,780 1180,760 1190,730 1200,725 1210,720 1220,760 1230,750 1240,740 1250,720 1260,690 1270,680 1280,672"/>
<polyline stroke="#8c564b" points="37,240 40,200 50,240 60,240 70,260 80,275 90,280 100,350 110,360 115,410 120,380 130,380 140,320 150,280 160,200 170,210 180,240 190,220 200,190 208,145 215,330 225,320 233,300 240,380 250,490 260,470 270,520 280,570 290,615 300,560 310,510 320,560 328,620 340,510 350,510 360,430 370,440 380,410 420,410 430,220 440,150 450,120 458,85 465,120 475,110 485,105 495,110 505,140 515,160 525,180 535,200 545,175 555,180 560,200 570,140 580,150 590,160 600,130 612,130 620,210 630,280 640,270 650,210 660,180 670,170 680,150 690,220 700,240 710,260 720,280 730,270 740,240 750,230 760,220 770,215 790,215 800,250 810,280 820,280 830,220 840,200 850,210 860,190 870,200 880,250 890,240 900,230 910,210 920,180 930,150 940,125 950,120 960,130 970,110 980,150 990,165 1000,180 1010,160 1020,155 1030,160 1040,195 1050,220 1056,240 1062,120 1072,80 1080,90 1090,110 1100,130 1110,150 1120,190 1130,130 1140,130 1150,110 1158,90 1165,105 1175,105 1185,140 1195,160 1205,170 1215,110 1225,105 1235,110 1245,160 1258,150 1265,210 1272,215 1280,220"/>
</g>
<!-- spines -->
<rect x="405" y="194.4" width="2511" height="1247.4" fill="none" stroke="#000" stroke-width="2"/>
<!-- ticks -->
<g stroke="#000" stroke-width="2">
<line x1="396.25" y1="355" x2="405" y2="355"/>
<line x1="396.25" y1="550.7" x2="405" y2="550.7"/>
<line x1="396.25" y1="746.5" x2="405" y2="746.5"/>
<line x1="396.25" y1="942.2" x2="405" y2="942.2"/>
<line x1="396.25" y1="1138" x2="405" y2="1138"/>
<line x1="396.25" y1="1333.7" x2="405" y2="1333.7"/>
<line x1="514" y1="1441.8" x2="514" y2="1450.5"/>
<line x1="824" y1="1441.8" x2="824" y2="1450.5"/>
<line x1="1139" y1="1441.8" x2="1139" y2="1450.5"/>
<line x1="1449" y1="1441.8" x2="1449" y2="1450.5"/>
<line x1="1764" y1="1441.8" x2="1764" y2="1450.5"/>
<line x1="2076" y1="1441.8" x2="2076" y2="1450.5"/>
<line x1="2391" y1="1441.8" x2="2391" y2="1450.5"/>
<line x1="2701" y1="1441.8" x2="2701" y2="1450.5"/>
</g>
<!-- y tick labels -->
<g class="t" font-size="24" text-anchor="end">
<text x="386" y="363" textLength="34" lengthAdjust="spacingAndGlyphs">0.6</text>
<text x="386" y="558.7" textLength="34" lengthAdjust="spacingAndGlyphs">0.5</text>
<text x="386" y="754.5" textLength="34" lengthAdjust="spacingAndGlyphs">0.4</text>
<text x="386" y="950.2" textLength="34" lengthAdjust="spacingAndGlyphs">0.3</text>
<text x="386" y="1146" textLength="34" lengthAdjust="spacingAndGlyphs">0.2</text>
<text x="386" y="1341.7" textLength="34" lengthAdjust="spacingAndGlyphs">0.1</text>
</g>
<!-- x tick labels -->
<g class="t" font-size="24">
<text x="472" y="1476" textLength="84" lengthAdjust="spacingAndGlyphs">2022-01</text>
<text x="782" y="1476" textLength="84" lengthAdjust="spacingAndGlyphs">2022-07</text>
<text x="1097" y="1476" textLength="84" lengthAdjust="spacingAndGlyphs">2023-01</text>
<text x="1407" y="1476" textLength="84" lengthAdjust="spacingAndGlyphs">2023-07</text>
<text x="1722" y="1476" textLength="84" lengthAdjust="spacingAndGlyphs">2024-01</text>
<text x="2034" y="1476" textLength="84" lengthAdjust="spacingAndGlyphs">2024-07</text>
<text x="2349" y="1476" textLength="84" lengthAdjust="spacingAndGlyphs">2025-01</text>
<text x="2659" y="1476" textLength="84" lengthAdjust="spacingAndGlyphs">2025-07</text>
</g>
<!-- title -->
<text class="t" x="1032" y="180" font-size="31" textLength="1246" lengthAdjust="spacingAndGlyphs">main index holding ratio, pct within strategy: (20220104, 20250829)</text>
<!-- legend -->
<rect x="424" y="1106" width="416" height="317" rx="7.5" ry="7.5" fill="#fff" fill-opacity="0.8" stroke="#cccccc" stroke-opacity="0.8" stroke-width="2.5"/>
<g stroke-width="3.75">
<line x1="438.75" y1="1134.5" x2="513.75" y2="1134.5" stroke="#1f77b4"/>
<line x1="438.75" y1="1185.6" x2="513.75" y2="1185.6" stroke="#ff7f0e"/>
<line x1="438.75" y1="1236.7" x2="513.75" y2="1236.7" stroke="#2ca02c"/>
<line x1="438.75" y1="1287.8" x2="513.75" y2="1287.8" stroke="#d62728"/>
<line x1="438.75" y1="1338.9" x2="513.75" y2="1338.9" stroke="#9467bd"/>
<line x1="438.75" y1="1390" x2="513.75" y2="1390" stroke="#8c564b"/>
</g>
<g class="t" font-size="37">
<text x="544" y="1146.5" textLength="280" lengthAdjust="spacingAndGlyphs">ratio_002: 0.14</text>
<text x="544" y="1197.6" textLength="280" lengthAdjust="spacingAndGlyphs">ratio_300: 0.22</text>
<text x="544" y="1248.7" textLength="280" lengthAdjust="spacingAndGlyphs">ratio_600: 0.48</text>
<text x="544" y="1299.8" textLength="280" lengthAdjust="spacingAndGlyphs">ratio_688: 0.32</text>
<text x="544" y="1350.9" textLength="261" lengthAdjust="spacingAndGlyphs">ratio_sz: 0.48</text>
<text x="544" y="1402" textLength="261" lengthAdjust="spacingAndGlyphs">ratio_sh: 0.52</text>
</g>
</svg>
</body></html>
